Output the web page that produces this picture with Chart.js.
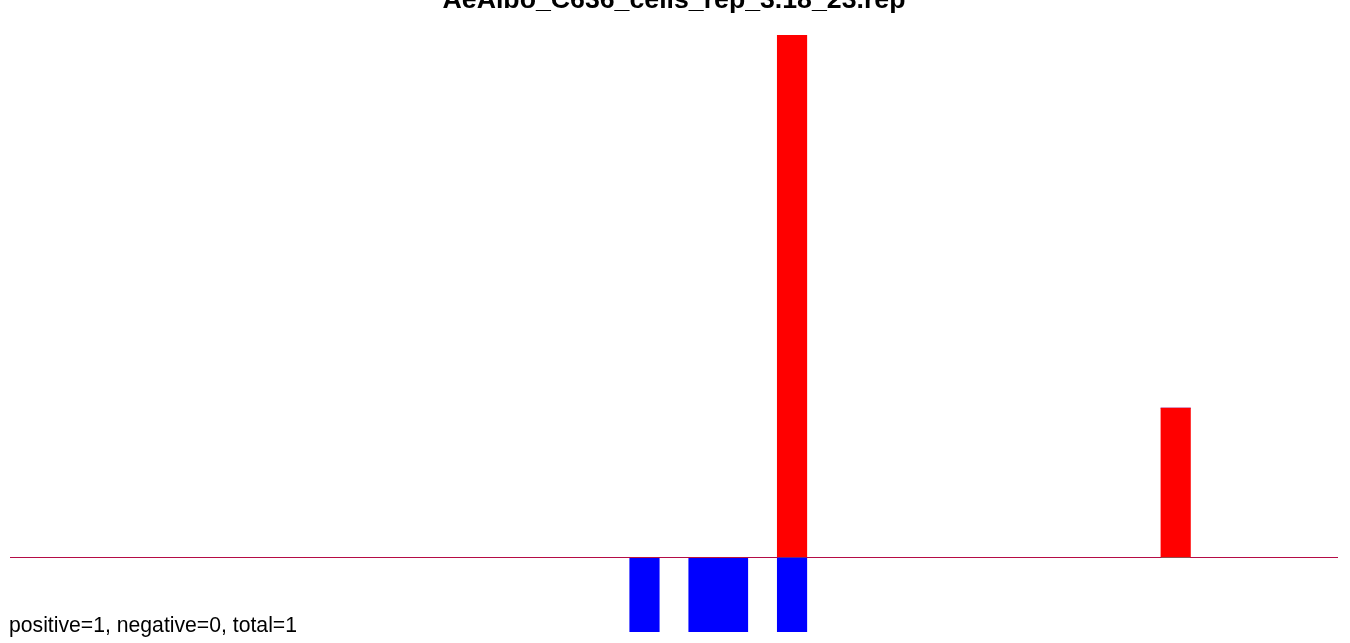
<!DOCTYPE html>
<html>
<head>
<meta charset="utf-8">
<script src="https://cdn.jsdelivr.net/npm/chart.js@4.4.1/dist/chart.umd.min.js"></script>
<style>
  html, body { margin: 0; padding: 0; background: #fff; }
  #wrap { width: 1350px; height: 643px; position: relative; }
</style>
</head>
<body>
<div id="wrap"><canvas id="chart"></canvas></div>
<script>
'use strict';

const TITLE = 'AeAlbo_C636_cells_rep_3.18_23.rep';
const FOOTER = 'positive=1, negative=0, total=1';

// 45 positions along the x axis
const positions = Array.from({ length: 45 }, (_, i) => String(i + 1));

// counts above the line (red)
const positiveCounts = [
  0, 0, 0, 0, 0, 0, 0, 0, 0, 0,
  0, 0, 0, 0, 0, 0, 0, 0, 0, 0,
  0, 0, 0, 0, 0, 0, 7, 0, 0, 0,
  0, 0, 0, 0, 0, 0, 0, 0, 0, 2,
  0, 0, 0, 0, 0,
];

// counts below the line (blue)
const negativeCounts = [
  0, 0, 0, 0, 0, 0, 0, 0, 0, 0,
  0, 0, 0, 0, 0, 0, 0, 0, 0, 0,
  0, -1, 0, -1, -1, 0, -1, 0, 0, 0,
  0, 0, 0, 0, 0, 0, 0, 0, 0, 0,
  0, 0, 0, 0, 0,
];

const textPlugin = {
  id: 'texts',
  afterDraw(chart) {
    const ctx = chart.ctx;
    ctx.save();
    ctx.fillStyle = '#000';
    ctx.textBaseline = 'alphabetic';
    ctx.font = 'bold 26.7px "Liberation Sans", Arial, sans-serif';
    ctx.textAlign = 'center';
    ctx.fillText(TITLE, 674, 8);
    ctx.font = '21.2px "Liberation Sans", Arial, sans-serif';
    ctx.textAlign = 'left';
    ctx.fillText(FOOTER, 9, 632);
    ctx.restore();
  },
};

new Chart(document.getElementById('chart'), {
  type: 'bar',
  data: {
    labels: positions,
    datasets: [
      {
        label: 'positive',
        data: positiveCounts,
        backgroundColor: '#ff0000',
        borderWidth: 0,
        barPercentage: 1,
        categoryPercentage: 1,
      },
      {
        label: 'negative',
        data: negativeCounts,
        backgroundColor: '#0000ff',
        borderWidth: 0,
        barPercentage: 1,
        categoryPercentage: 1,
      },
    ],
  },
  options: {
    responsive: true,
    maintainAspectRatio: false,
    animation: false,
    layout: { padding: { left: 10, right: 12, top: 35, bottom: 11 } },
    plugins: {
      legend: { display: false },
      tooltip: { enabled: false },
    },
    scales: {
      x: {
        display: false,
        stacked: true,
      },
      y: {
        stacked: true,
        min: -1,
        max: 7,
        ticks: { display: false },
        border: { display: false },
        grid: {
          drawTicks: false,
          lineWidth: 1,
          color: (c) => (c.tick && c.tick.value === 0 ? '#6a6a6a' : 'rgba(0,0,0,0)'),
        },
        afterFit(scale) { scale.width = 0; },
      },
    },
  },
  plugins: [textPlugin],
});
</script>
</body>
</html>
